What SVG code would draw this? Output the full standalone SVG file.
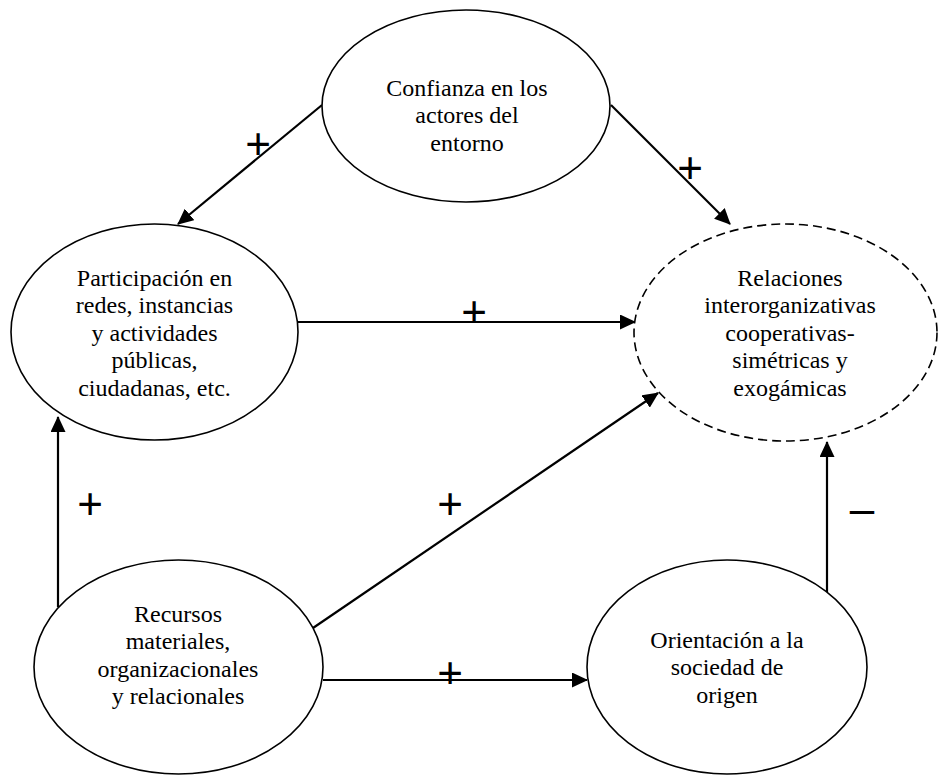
<svg xmlns="http://www.w3.org/2000/svg" width="940" height="775" viewBox="0 0 940 775">
<style>
.node ellipse{fill:#fff;stroke:#000;stroke-width:1.6}
.node ellipse.dash{stroke-dasharray:9 5}
.node text{font-family:"Liberation Serif","Times New Roman",serif;font-size:24px;fill:#000;text-anchor:middle}
.conn line{stroke:#000;stroke-width:2.2;marker-end:url(#ah)}
.sign{font-family:"Liberation Sans",Arial,sans-serif;font-size:44px;fill:#000;text-anchor:middle}
</style>
<defs>
<marker id="ah" viewBox="0 0 16 15" refX="15" refY="7.5" markerWidth="16" markerHeight="15" markerUnits="userSpaceOnUse" orient="auto">
<path d="M0,0 L16,7.5 L0,15 z" fill="#000"/>
</marker>
</defs>
<rect width="940" height="775" fill="#fff"/>
<g id="connectors" class="conn">
<line x1="322" y1="105" x2="178" y2="224"/>
<line x1="611" y1="105" x2="730" y2="224"/>
<line x1="298" y1="322" x2="635" y2="322"/>
<line x1="313" y1="628" x2="658" y2="393"/>
<line x1="323" y1="680" x2="587" y2="680"/>
<line x1="58" y1="607" x2="58" y2="417"/>
<line x1="827" y1="592" x2="827" y2="442"/>
</g>
<g id="signs">
<text class="sign" x="258" y="158.6">+</text>
<text class="sign" x="690" y="182.6">+</text>
<text class="sign" x="474" y="326.6">+</text>
<text class="sign" x="90" y="518.6">+</text>
<text class="sign" x="450" y="518.6">+</text>
<text class="sign" x="450" y="687.6">+</text>
<text class="sign" x="862" y="524">–</text>
</g>
<g id="confianza" class="node">
<ellipse cx="466" cy="106" rx="144" ry="96"/>
<text x="467" y="96">Confianza en los</text>
<text x="467" y="123.4">actores del</text>
<text x="467" y="150.8">entorno</text>
</g>
<g id="participacion" class="node">
<ellipse cx="154.5" cy="332" rx="143.5" ry="108"/>
<text x="154.5" y="286">Participación en</text>
<text x="154.5" y="313.4">redes, instancias</text>
<text x="154.5" y="340.8">y actividades</text>
<text x="154.5" y="368.2">públicas,</text>
<text x="154.5" y="395.6">ciudadanas, etc.</text>
</g>
<g id="relaciones" class="node">
<ellipse class="dash" cx="785.5" cy="332.5" rx="151.5" ry="108.5"/>
<text x="790" y="286">Relaciones</text>
<text x="790" y="313.4">interorganizativas</text>
<text x="790" y="340.8">cooperativas-</text>
<text x="790" y="368.2">simétricas y</text>
<text x="790" y="395.6">exogámicas</text>
</g>
<g id="recursos" class="node">
<ellipse cx="178.5" cy="667" rx="144.5" ry="107"/>
<text x="178" y="622">Recursos</text>
<text x="178" y="649.4">materiales,</text>
<text x="178" y="676.8">organizacionales</text>
<text x="178" y="704.2">y relacionales</text>
</g>
<g id="orientacion" class="node">
<ellipse cx="727" cy="667" rx="140" ry="107"/>
<text x="727" y="648">Orientación a la</text>
<text x="727" y="675.4">sociedad de</text>
<text x="727" y="702.8">origen</text>
</g>
</svg>
